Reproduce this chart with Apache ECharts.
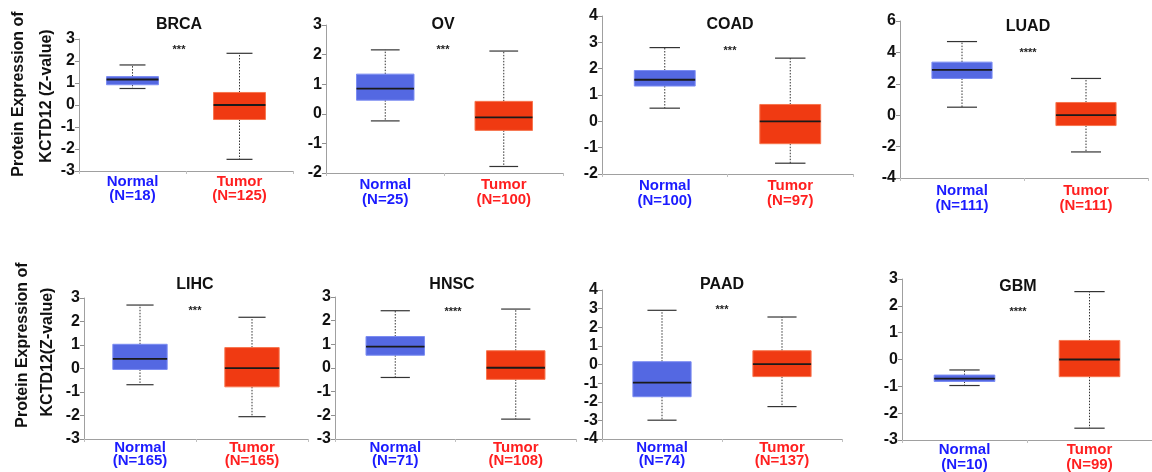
<!DOCTYPE html>
<html>
<head>
<meta charset="utf-8">
<script src="https://cdn.jsdelivr.net/npm/echarts@6/dist/echarts.min.js"></script>
<style>
html,body{margin:0;padding:0;background:#fff;}
#chart{width:1152px;height:472px;}
</style>
</head>
<body>
<div id="chart"></div>
<script>
// ---------- DATA ----------
var cancers = ['BRCA', 'OV', 'COAD', 'LUAD', 'LIHC', 'HNSC', 'PAAD', 'GBM'];
var groups = ['Normal', 'Tumor'];
var normalN = [18, 25, 100, 111, 165, 71, 74, 10];
var tumorN = [125, 100, 97, 111, 165, 108, 137, 99];
var stars = ['***', '***', '***', '****', '***', '****', '***', '****'];
// [min, Q1, median, Q3, max]
var normalStats = [
  [0.75, 0.92, 1.16, 1.29, 1.82],
  [-0.24, 0.46, 0.85, 1.34, 2.16],
  [0.50, 1.34, 1.58, 1.93, 2.80],
  [0.51, 2.34, 2.89, 3.38, 4.69],
  [-0.69, -0.04, 0.41, 1.03, 2.70],
  [-0.40, 0.54, 0.90, 1.33, 2.42],
  [-2.99, -1.73, -0.97, 0.15, 2.91],
  [-0.97, -0.82, -0.71, -0.58, -0.39]
];
var tumorStats = [
  [-2.47, -0.66, 0.00, 0.57, 2.35],
  [-1.78, -0.56, -0.12, 0.42, 2.12],
  [-1.59, -0.85, 0.00, 0.64, 2.40],
  [-2.34, -0.66, 0.00, 0.81, 2.34],
  [-2.05, -0.78, 0.02, 0.89, 2.18],
  [-2.16, -0.48, 0.01, 0.73, 2.49],
  [-2.26, -0.65, 0.02, 0.74, 2.55],
  [-2.56, -0.64, 0.00, 0.71, 2.53]
];
var yMin = [-3, -2, -2, -4, -3, -3, -4, -3];
var yMax = [3, 3, 4, 6, 3, 3, 4, 3];
var yInterval = [1, 1, 1, 2, 1, 1, 1, 1];
var yAxisTitle = ['Protein Expression of', 'KCTD12 (Z-value)', 'KCTD12(Z-value)'];

// ---------- LAYOUT ----------
// [left, top, width, height]
var gridBoxes = [
  [79, 39, 214, 132],
  [326, 25, 237, 148],
  [602, 16, 251, 158],
  [900, 21, 248, 157],
  [84, 298, 224, 141],
  [335, 297, 241, 142],
  [602, 290, 240, 149],
  [902, 279, 258, 164]
];
var titlePos = [[179, 25], [443, 25], [730, 25], [1028, 27], [195, 285], [452, 285], [722, 285], [1018, 287]];
var starPos = [[179, 50], [443, 50], [730, 51], [1028, 53], [195, 311], [453, 312], [722, 310], [1018, 312]];
var labelMargin = [4, 4, 4, 5, 2, 2, 2, 2];
var labelLH = [14, 15, 15, 15, 13, 13, 13, 15];

var FONT = '"Liberation Sans", Arial, sans-serif';
var BLUE_FILL = '#5468e2', BLUE_EDGE = '#7b8cf2';
var RED_FILL = '#f03a12', RED_EDGE = '#f7764f';

var chart = echarts.init(document.getElementById('chart'), null, {renderer: 'canvas'});

var grids = [], xAxes = [], yAxes = [], series = [], graphics = [];

cancers.forEach(function (c, i) {
  var g = gridBoxes[i];
  grids.push({left: g[0], top: g[1], width: g[2], height: g[3], containLabel: false});
  (function (idx) {
    xAxes.push({
      type: 'category', gridIndex: idx, data: groups, boundaryGap: true,
      axisLine: {onZero: false, lineStyle: {color: '#a0a0a0', width: 1}},
      axisTick: {show: true, length: 3, lineStyle: {color: '#c0c0c0'}},
      axisLabel: {
        margin: labelMargin[idx], interval: 0,
        formatter: function (v, k) {
          var n = k === 0 ? normalN[idx] : tumorN[idx];
          var s = k === 0 ? 'b' : 'r';
          return '{' + s + '|' + v + '}\n{' + s + '|(N=' + n + ')}';
        },
        rich: {
          b: {color: '#1b1bff', fontFamily: FONT, fontWeight: 'bold', fontSize: 15, lineHeight: labelLH[idx]},
          r: {color: '#ff1f1f', fontFamily: FONT, fontWeight: 'bold', fontSize: 15, lineHeight: labelLH[idx]}
        }
      }
    });
  })(i);
  yAxes.push({
    type: 'value', gridIndex: i, min: yMin[i], max: yMax[i], interval: yInterval[i],
    splitLine: {show: false},
    axisLine: {show: true, lineStyle: {color: '#a0a0a0', width: 1}},
    axisTick: {show: true, length: 4, lineStyle: {color: '#909090'}},
    axisLabel: {color: '#111', fontFamily: FONT, fontWeight: 'bold', fontSize: 16, margin: 4}
  });
  series.push({
    type: 'custom', xAxisIndex: i, yAxisIndex: i,
    encode: {x: 0, y: [1, 2, 3, 4, 5]},
    data: [
      [0].concat(normalStats[i]),
      [1].concat(tumorStats[i])
    ],
    renderItem: function (params, api) {
      var xi = api.value(0);
      var bw = api.size([1, 0])[0] * 0.485;
      var pMin = api.coord([xi, api.value(1)]);
      var pQ1 = api.coord([xi, api.value(2)]);
      var pMed = api.coord([xi, api.value(3)]);
      var pQ3 = api.coord([xi, api.value(4)]);
      var pMax = api.coord([xi, api.value(5)]);
      var cx = pMed[0];
      var fill = xi === 0 ? BLUE_FILL : RED_FILL;
      var edge = xi === 0 ? BLUE_EDGE : RED_EDGE;
      var cap = bw / 2;
      var dash = {stroke: '#333', lineWidth: 1, lineDash: [1.5, 1.5]};
      var solid = {stroke: '#333', lineWidth: 1.2};
      return {
        type: 'group',
        children: [
          {type: 'line', shape: {x1: cx, y1: pQ3[1], x2: cx, y2: pMax[1]}, style: dash},
          {type: 'line', shape: {x1: cx, y1: pQ1[1], x2: cx, y2: pMin[1]}, style: dash},
          {type: 'line', shape: {x1: cx - cap / 2, y1: pMax[1], x2: cx + cap / 2, y2: pMax[1]}, style: solid},
          {type: 'line', shape: {x1: cx - cap / 2, y1: pMin[1], x2: cx + cap / 2, y2: pMin[1]}, style: solid},
          {type: 'rect', shape: {x: cx - bw / 2, y: pQ3[1], width: bw, height: pQ1[1] - pQ3[1]},
            style: {fill: fill, stroke: edge, lineWidth: 1}},
          {type: 'line', shape: {x1: cx - bw / 2, y1: pMed[1], x2: cx + bw / 2, y2: pMed[1]},
            style: {stroke: '#1a1a1a', lineWidth: 1.8}}
        ]
      };
    }
  });
  graphics.push({
    type: 'text', x: titlePos[i][0], y: titlePos[i][1],
    style: {text: c, fill: '#111', font: 'bold 16px ' + FONT, textAlign: 'center', textVerticalAlign: 'middle'}
  });
  graphics.push({
    type: 'text', x: starPos[i][0], y: starPos[i][1],
    style: {text: stars[i], fill: '#222', font: 'bold 11px ' + FONT, textAlign: 'center', textVerticalAlign: 'middle'}
  });
});

// y-axis titles (rotated)
[[19, 94, yAxisTitle[0]], [47, 96, yAxisTitle[1]], [23, 345, yAxisTitle[0]], [48, 352, yAxisTitle[2]]].forEach(function (t) {
  graphics.push({
    type: 'text', x: t[0], y: t[1], rotation: Math.PI / 2,
    style: {text: t[2], fill: '#111', font: 'bold 16px ' + FONT, textAlign: 'center', textVerticalAlign: 'middle'}
  });
});

chart.setOption({
  animation: false,
  backgroundColor: '#ffffff',
  grid: grids,
  xAxis: xAxes,
  yAxis: yAxes,
  series: series,
  graphic: graphics
});
</script>
</body>
</html>
